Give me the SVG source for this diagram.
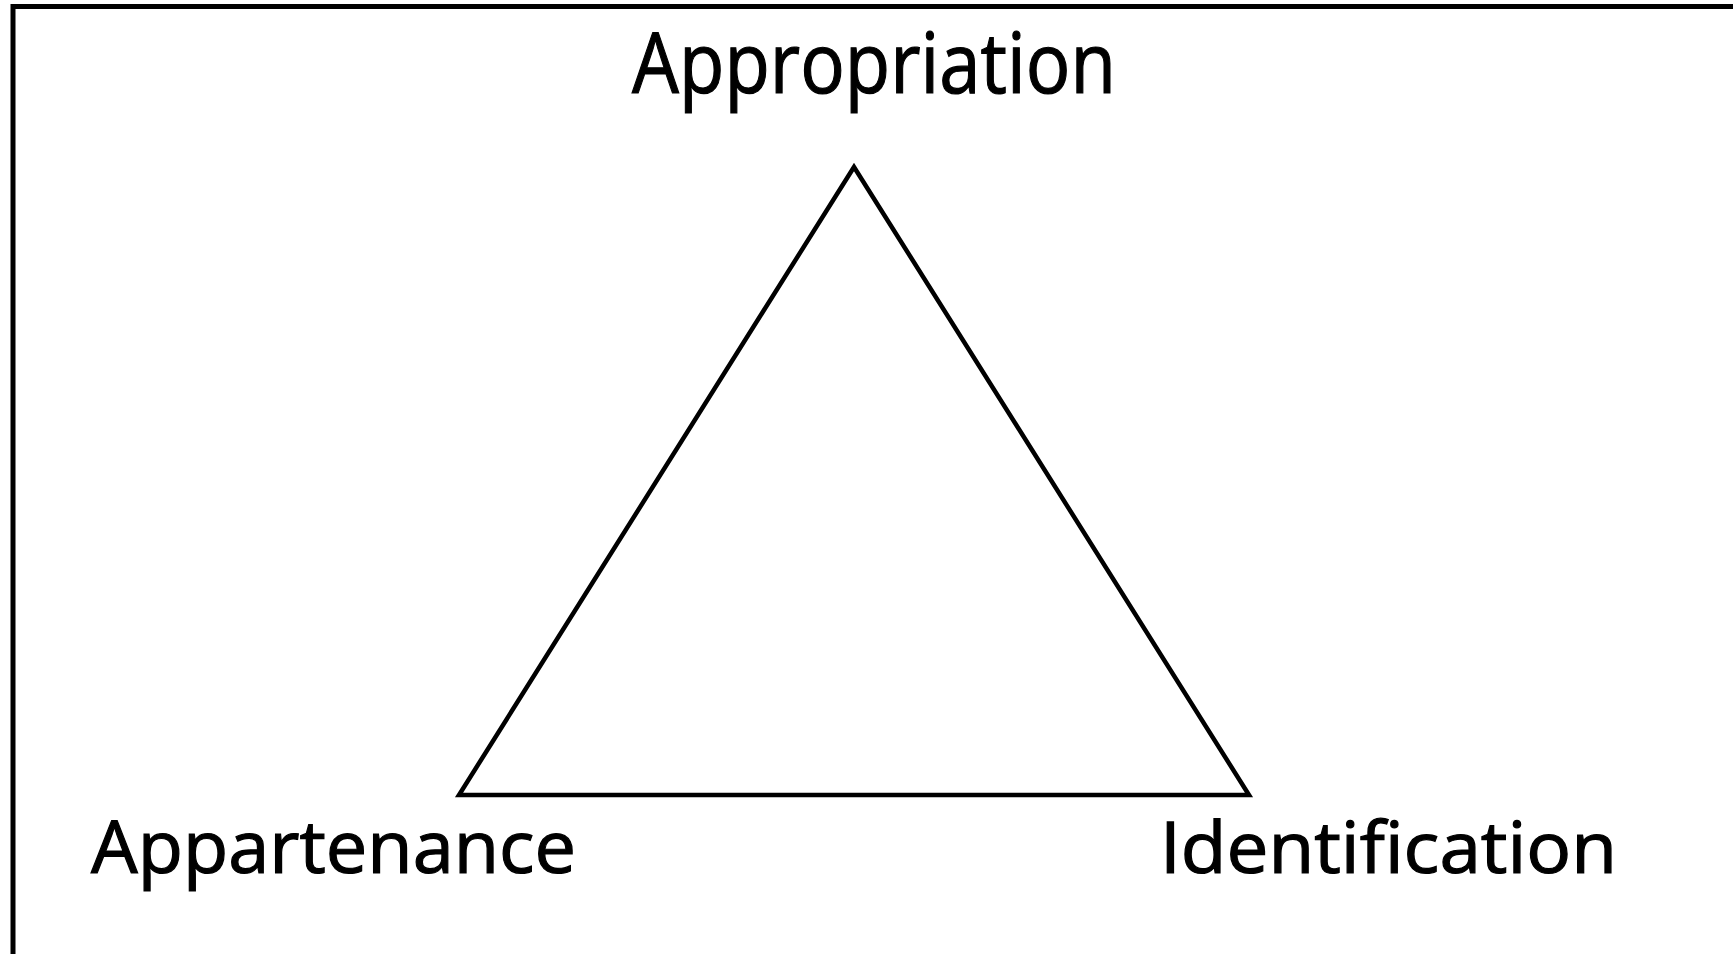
<svg xmlns="http://www.w3.org/2000/svg" width="1733" height="954" viewBox="0 0 1733 954">
<style>
.lbl{font-family:"Open Sans","Liberation Sans",sans-serif;fill:#000;stroke:#000;stroke-width:1.2}
.ln{fill:none;stroke:#000;stroke-width:4.5;stroke-linejoin:miter}
</style>
<rect x="0" y="0" width="1733" height="954" fill="#fff"/>
<rect x="13" y="6.5" width="1745" height="970" fill="none" stroke="#000" stroke-width="5"/>
<g id="connectors">
<polygon class="ln" points="854,167 459,795 1249,795"/>
</g>
<g id="node-appropriation">
<text class="lbl" x="632" y="93" font-size="85" textLength="484" lengthAdjust="spacingAndGlyphs">Appropriation</text>
</g>
<g id="node-appartenance">
<text class="lbl" x="91" y="873" font-size="74" textLength="485" lengthAdjust="spacingAndGlyphs">Appartenance</text>
</g>
<g id="node-identification">
<text class="lbl" x="1160" y="873" font-size="72" textLength="457" lengthAdjust="spacingAndGlyphs">Identification</text>
</g>
</svg>
